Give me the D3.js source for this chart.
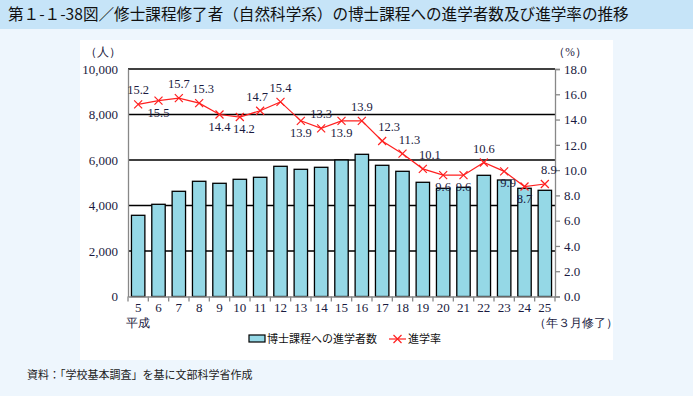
<!DOCTYPE html>
<html><head><meta charset="utf-8">
<script src="https://cdn.jsdelivr.net/npm/d3@7"></script>
<style>
body{margin:0;padding:0;background:#eef6fd;}
svg{display:block;}
</style></head>
<body>
<svg id="c" width="693" height="396"></svg>
<script>
const years = ["5","6","7","8","9","10","11","12","13","14","15","16","17","18","19","20","21","22","23","24","25"];
const students = [3569,4053,4624,5064,4976,5152,5240,5723,5591,5679,6000,6250,5767,5503,5020,4756,4800,5327,5121,4756,4668];
const rates = [15.2,15.5,15.7,15.3,14.4,14.2,14.7,15.4,13.9,13.3,13.9,13.9,12.3,11.3,10.1,9.6,9.6,10.6,9.9,8.7,8.9];
// label placement: a = above, b = below (r / l = nudged right / left)
const labelPos = ["a","b","a","ar","b","br","al","a","b","a","b","a","ar","ar","ar","b","b","a","br","b","ar"];
const leftTicks = [0,2000,4000,6000,8000,10000];
const rightTicks = [0,2,4,6,8,10,12,14,16,18];

const svg = d3.select("#c");
const serif = "'Liberation Serif','DejaVu Serif',serif";
const jp = "'Noto Sans CJK JP','Noto Sans CJK SC',sans-serif";

// header
svg.append("rect").attr("x",0).attr("y",0).attr("width",693).attr("height",29).attr("fill","#c6e4f8");
svg.append("text").attr("x",8).attr("y",20).attr("font-family",jp).attr("font-size",15.6).attr("fill","#111")
  .text("第１-１-38図／修士課程修了者（自然科学系）の博士課程への進学者数及び進学率の推移");
// panel
svg.append("rect").attr("x",80).attr("y",40).attr("width",533).attr("height",320).attr("fill","#fff");

const L = 128, R = 555, T = 69, B = 296.5;
const x = d3.scaleBand().domain(years).range([L,R]).paddingInner(0.34).paddingOuter(0.17);
const yL = d3.scaleLinear().domain([0,10000]).range([B,T]);
const yR = d3.scaleLinear().domain([0,18]).range([B,T]);

// gridlines
svg.append("g").selectAll("line").data(leftTicks.filter(d=>d>0)).join("line")
  .attr("x1",L).attr("x2",R).attr("y1",d=>yL(d)).attr("y2",d=>yL(d))
  .attr("stroke","#000").attr("stroke-width",1.3);

// bars
svg.append("g").selectAll("rect").data(students).join("rect")
  .attr("x",(d,i)=>x(years[i])).attr("width",x.bandwidth())
  .attr("y",d=>yL(d)).attr("height",d=>B-yL(d))
  .attr("fill","#95d8e6").attr("stroke","#000").attr("stroke-width",1.3);

// left axis
const gl = svg.append("g").attr("transform",`translate(${L},0)`)
  .call(d3.axisLeft(yL).tickValues(leftTicks).tickSize(0).tickPadding(10).tickFormat(d3.format(",")));
gl.select(".domain").attr("stroke","#888").attr("stroke-width",1.3);
gl.selectAll("text").attr("font-family",serif).attr("font-size",13).attr("fill","#1a1a40");

// right axis
const gr = svg.append("g").attr("transform",`translate(${R},0)`)
  .call(d3.axisRight(yR).tickValues(rightTicks).tickSize(5).tickPadding(4).tickFormat(d3.format(".1f")));
gr.select(".domain").attr("stroke","#888").attr("stroke-width",1.3);
gr.selectAll(".tick line").attr("stroke","#888").attr("stroke-width",1.3);
gr.selectAll("text").attr("font-family",serif).attr("font-size",13).attr("fill","#1a1a40");

// bottom axis
const gb = svg.append("g").attr("transform",`translate(0,${B})`)
  .call(d3.axisBottom(x).tickSize(0).tickPadding(6));
gb.select(".domain").attr("stroke","#888").attr("stroke-width",1.3);
gb.selectAll("text").attr("font-family",serif).attr("font-size",13).attr("fill","#1a1a40");
// category separator ticks
const bounds = d3.range(years.length+1).map(i=>L + i*(R-L)/years.length);
svg.append("g").selectAll("line").data(bounds).join("line")
  .attr("x1",d=>d).attr("x2",d=>d).attr("y1",B).attr("y2",B+5)
  .attr("stroke","#888").attr("stroke-width",1.3);

// axis titles
svg.append("text").attr("x",103).attr("y",56).attr("text-anchor","middle").attr("font-family",serif).attr("font-size",11.5).attr("fill","#1a1a40").text("（人）");
svg.append("text").attr("x",570).attr("y",56).attr("text-anchor","middle").attr("font-family",serif).attr("font-size",11.5).attr("fill","#1a1a40").text("（%）");
svg.append("text").attr("x",138).attr("y",327).attr("text-anchor","middle").attr("font-family",serif).attr("font-size",11.5).attr("fill","#1a1a40").text("平成");
svg.append("text").attr("x",576).attr("y",327).attr("text-anchor","middle").attr("font-family",serif).attr("font-size",11.5).attr("fill","#1a1a40").text("（年３月修了）");

// line
const cx = (i)=>x(years[i])+x.bandwidth()/2;
const line = d3.line().x((d,i)=>cx(i)).y(d=>yR(d));
svg.append("path").datum(rates).attr("d",line).attr("fill","none").attr("stroke","#ff2020").attr("stroke-width",1.2);
const m = 4;
const mk = svg.append("g").selectAll("g").data(rates).join("g")
  .attr("transform",(d,i)=>`translate(${cx(i)},${yR(d)})`);
mk.append("path").attr("d",`M${-m},${-m}L${m},${m}M${-m},${m}L${m},${-m}`).attr("stroke","#ff2020").attr("stroke-width",1.2);

// labels
svg.append("g").selectAll("text").data(rates).join("text")
  .attr("x",(d,i)=>{const p=labelPos[i]; return cx(i)+(p[1]==="r"?4:p[1]==="l"?-3:0) + (p==="ar" && i>=12 && i<=14 ? 3 : 0);})
  .attr("y",(d,i)=>{const p=labelPos[i]; return yR(d)+(p[0]==="a"?-10:16);})
  .attr("text-anchor","middle")
  .attr("font-family",serif).attr("font-size",12.5).attr("fill","#1a1a40")
  .text(d=>d.toFixed(1));

// legend
svg.append("rect").attr("x",249).attr("y",335).attr("width",16).attr("height",7).attr("fill","#95d8e6").attr("stroke","#000").attr("stroke-width",1.2);
svg.append("text").attr("x",267).attr("y",343).attr("font-family",jp).attr("font-size",11).attr("fill","#111").text("博士課程への進学者数");
svg.append("line").attr("x1",389).attr("x2",406).attr("y1",339).attr("y2",339).attr("stroke","#ff2020").attr("stroke-width",1.2);
svg.append("path").attr("d",`M${397.5-m},${339-m}L${397.5+m},${339+m}M${397.5-m},${339+m}L${397.5+m},${339-m}`).attr("stroke","#ff2020").attr("stroke-width",1.2);
svg.append("text").attr("x",408).attr("y",343).attr("font-family",jp).attr("font-size",11).attr("fill","#111").text("進学率");

// source
svg.append("text").attr("x",27).attr("y",379).attr("font-family",jp).attr("font-size",11).attr("fill","#222").text("資料：「学校基本調査」を基に文部科学省作成");
</script>
</body></html>
